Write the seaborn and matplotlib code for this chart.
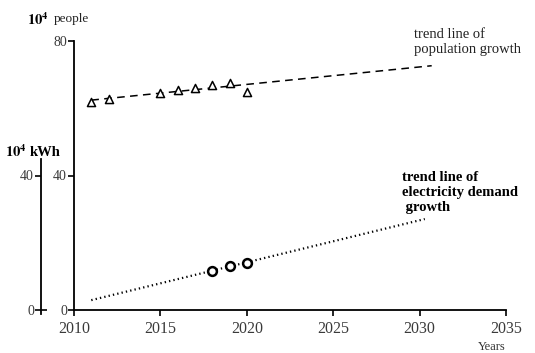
import numpy as np
import pandas as pd
import matplotlib
matplotlib.use("Agg")
import matplotlib.pyplot as plt
import seaborn as sns

sns.set_theme(style="white")
plt.rcParams["font.family"] = ["Liberation Serif", "DejaVu Serif"]
plt.rcParams["mathtext.fontset"] = "stix"

# Observed population (10^4 people)
pop_years = [2011, 2012, 2015, 2016, 2017, 2018, 2019, 2020]
pop_values = [61.9, 62.7, 64.6, 65.4, 66.1, 66.9, 67.6, 64.9]

# Observed electricity demand (10^4 kWh)
elec_years = [2018, 2019, 2020]
elec_values = [11.6, 13.1, 14.1]

# Span of the fitted trend lines
pop_trend_span = [2011, 2030.7]
elec_trend_span = [2011, 2030.3]

x_ticks = [2010, 2015, 2020, 2025, 2030, 2035]
people_ticks = [0, 40, 80]
kwh_ticks = [0, 40]

pop_df = pd.DataFrame({"year": pop_years, "value": pop_values})
elec_df = pd.DataFrame({"year": elec_years, "value": elec_values})

pop_fit = np.polyfit(pop_years, pop_values, 1)
elec_fit = np.polyfit(elec_years, elec_values, 1)
pop_trend = pd.DataFrame({"year": pop_trend_span,
                          "value": np.polyval(pop_fit, pop_trend_span)})
elec_trend = pd.DataFrame({"year": elec_trend_span,
                           "value": np.polyval(elec_fit, elec_trend_span)})

W, H = 535, 353
fig = plt.figure(figsize=(W / 100, H / 100), dpi=100)
rect = [74 / W, 1 - 310 / H, (506 - 74) / W, (310 - 41) / H]
ax = fig.add_axes(rect)

tick_color = "#3a3a3a"

# Trend lines
sns.lineplot(data=pop_trend, x="year", y="value", ax=ax, color="black",
             linewidth=1.1, linestyle=(0, (5, 3.5)))
sns.lineplot(data=elec_trend, x="year", y="value", ax=ax, color="black",
             linewidth=1.6, linestyle=(0, (0.6, 1.4)))

# Observations
sns.scatterplot(data=pop_df, x="year", y="value", ax=ax, marker="^", s=34,
                facecolor="white", edgecolor="black", linewidth=1.1, zorder=5)
sns.scatterplot(data=elec_df, x="year", y="value", ax=ax, marker="o", s=40,
                facecolor="white", edgecolor="black", linewidth=1.8, zorder=5)

ax.set_xlim(2010, 2035)
ax.set_ylim(0, 80)
ax.set_xticks(x_ticks)
ax.set_yticks(people_ticks)
ax.set_xlabel("")
ax.set_ylabel("")
for side in ["top", "right"]:
    ax.spines[side].set_visible(False)
for side in ["left", "bottom"]:
    ax.spines[side].set_color("black")
    ax.spines[side].set_linewidth(1.3)
ax.tick_params(axis="x", direction="out", length=4, width=1.2, color="black",
               labelsize=11.5, labelcolor=tick_color, pad=4, bottom=True)
ax.tick_params(axis="y", direction="out", length=4, width=1.2, color="black",
               labelsize=10, labelcolor=tick_color, pad=1, left=True)
ax.patch.set_alpha(0)

# Secondary kWh axis to the left
ax2 = fig.add_axes(rect)
ax2.set_ylim(0, 80)
ax2.patch.set_alpha(0)
ax2.xaxis.set_visible(False)
for side in ["top", "right", "bottom"]:
    ax2.spines[side].set_visible(False)
ax2.spines["left"].set_position(("axes", (41 - 74) / (506 - 74)))
ax2.spines["left"].set_bounds(-1.3, 45)
ax2.spines["left"].set_linewidth(1.3)
ax2.spines["left"].set_color("black")
ax2.set_yticks(kwh_ticks)
ax2.tick_params(axis="y", direction="out", length=4, width=1.2, color="black",
                labelsize=10, labelcolor=tick_color, pad=1, left=True)
zero_tick = ax2.yaxis.get_major_ticks()[0]
zero_tick.tick1line.set_marker("_")
zero_tick.tick1line.set_markersize(9)

# Axis titles
fig.text(27 / W, 1 - 20 / H, r"$\mathbf{10}^{\mathbf{4}}$", fontsize=10.5,
         ha="left", va="center", color="black")
fig.text(54 / W, 1 - 19 / H, "people", fontsize=9.5, ha="left", va="center",
         color="#222222")
fig.text(5 / W, 1 - 152 / H, r"$\mathbf{10}^{\mathbf{4}}$", fontsize=10.5,
         ha="left", va="center", color="black")
fig.text(30 / W, 1 - 153 / H, "kWh", fontsize=10.5, fontweight="bold",
         ha="left", va="center", color="black")
fig.text(478 / W, 1 - 347 / H, "Years", fontsize=9, ha="left", va="center",
         color="#333333")

# Trend line annotations
ax.text(2029.7, 84.0, "trend line of\npopulation growth", fontsize=10.5,
        ha="left", va="top", color="#222222", linespacing=1.2)
ax.text(2029.0, 41.4, "trend line of\nelectricity demand\n growth",
        fontsize=10.5, fontweight="bold", ha="left", va="top",
        color="black", linespacing=1.2)

fig.savefig("out.png", dpi=100)
